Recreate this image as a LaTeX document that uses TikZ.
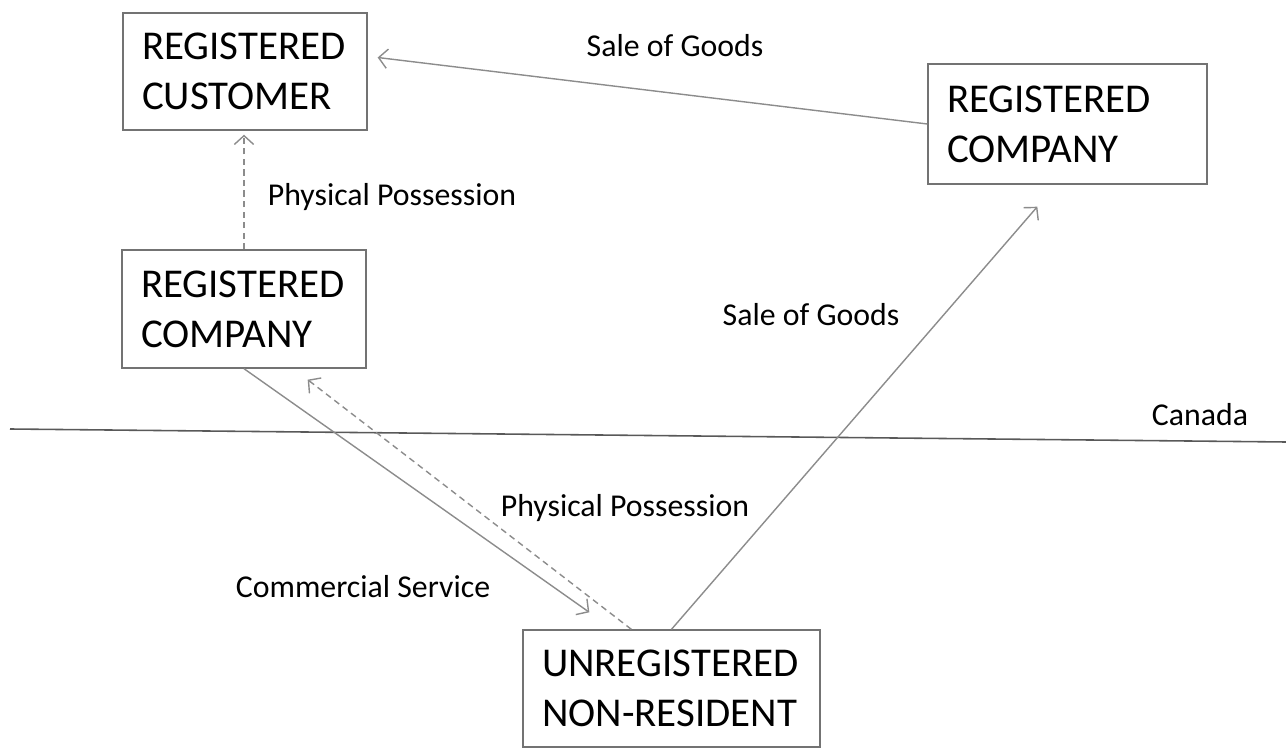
\documentclass[tikz,border=0pt]{standalone}
\usepackage{fontspec}
\setmainfont{Carlito}
\usetikzlibrary{arrows.meta}
\definecolor{boxline}{gray}{0.45}
\definecolor{flowline}{gray}{0.55}
\definecolor{borderline}{gray}{0.35}
\begin{document}
\begin{tikzpicture}[x=0.02cm,y=0.02cm,
  party/.style={draw=boxline,line width=0.8pt,align=left,inner xsep=0.38cm,
    font=\fontsize{23.3}{28.5}\selectfont},
  flow/.style={draw=flowline,line width=0.8pt,-{Straight Barb[length=5pt,width=11pt]}},
  possession/.style={flow,dash pattern=on 3.5pt off 2.5pt},
  lbl/.style={anchor=base,font=\fontsize{18.1}{21}\selectfont}]
  \useasboundingbox (0,0) rectangle (1286,748);
  % the four parties
  \node[party,text width=4.12cm,minimum height=2.34cm] (cust) at (245,676.5) {REGISTERED\\CUSTOMER};
  \node[party,text width=4.12cm,minimum height=2.36cm] (coL) at (244,439) {REGISTERED\\COMPANY};
  \node[party,text width=4.82cm,minimum height=2.40cm] (coR) at (1067.5,624) {REGISTERED\\COMPANY};
  \node[party,text width=5.18cm,minimum height=2.34cm] (unr) at (671.5,59.5) {UNREGISTERED\\NON-RESIDENT};
  % border
  \coordinate (bl) at (10,319);
  \coordinate (br) at (1286,306);
  \draw[borderline,line width=0.9pt] (bl) -- (br);
  \node[lbl] (canada) at (1200,322) {Canada};
  % goods and possession
  \draw[flow] (coR.west) -- ([shift={(10,14)}]cust.east);
  \draw[possession,shorten >=2.3pt] (coL.north) -- (coL.north |- cust.south);
  \draw[flow] (coL.south) -- ([shift={(67,17)}]unr.north west);
  \draw[possession] ([shift={(109,0)}]unr.north west) -- ([shift={(-59,-11)}]coL.south east);
  \draw[flow] (unr.north) -- ([shift={(110,-22)}]coR.south west);
  \node[lbl] (sale1) at (675,691) {Sale of Goods};
  \node[lbl] (poss1) at (392,542) {Physical Possession};
  \node[lbl] (sale2) at (811,422) {Sale of Goods};
  \node[lbl] (poss2) at (625,231) {Physical Possession};
  \node[lbl] (serv) at (363,151) {Commercial Service};
\end{tikzpicture}
\end{document}
